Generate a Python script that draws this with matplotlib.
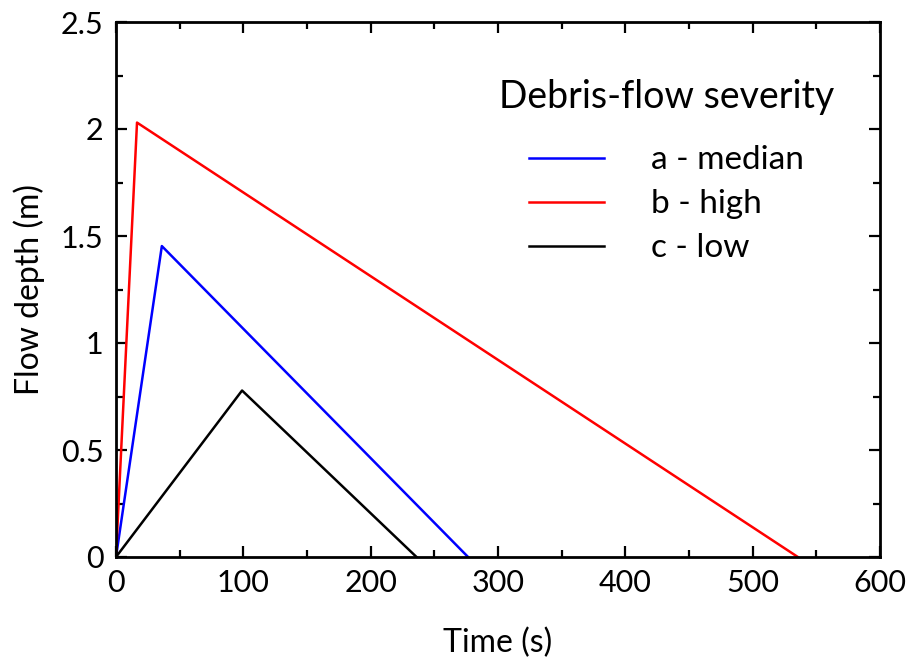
import numpy as np
import matplotlib.pyplot as plt
from matplotlib.ticker import MultipleLocator

plt.rcParams.update({
    "font.family": ["Lato", "DejaVu Sans"],
    "font.size": 22,
})

# ── Data (hydrograph vertices) ───────────────────────────────────
t_median = [0, 36, 276.5]
d_median = [0, 1.453, 0]
t_high = [0, 16.5, 535.5]
d_high = [0, 2.03, 0]
t_low = [0, 99, 236]
d_low = [0, 0.778, 0]

fig = plt.figure(figsize=(9.08, 6.66), dpi=100)
ax = fig.add_axes([116 / 908, 1 - 557 / 666, 764 / 908, 535 / 666])

ax.plot(t_median, d_median, color="#0000ff", lw=1.8, label="a - median")
ax.plot(t_high, d_high, color="#ff0000", lw=1.8, label="b - high")
ax.plot(t_low, d_low, color="black", lw=1.8, label="c - low")

ax.set_xlim(0, 600)
ax.set_ylim(0, 2.5)
ax.xaxis.set_major_locator(MultipleLocator(100))
ax.xaxis.set_minor_locator(MultipleLocator(50))
ax.yaxis.set_major_locator(MultipleLocator(0.5))
ax.yaxis.set_minor_locator(MultipleLocator(0.25))
ax.yaxis.set_major_formatter(plt.FuncFormatter(lambda v, p: f"{v:g}"))
ax.tick_params(which="both", direction="in", top=True, right=True,
               width=1.6, labelsize=22)
ax.tick_params(which="major", length=8, pad=9)
ax.tick_params(which="minor", length=5)
for sp in ax.spines.values():
    sp.set_linewidth(2)

ax.set_xlabel("Time (s)", fontsize=23, labelpad=22)
ax.set_ylabel("Flow depth (m)", fontsize=23, labelpad=11)

leg = ax.legend(title="Debris-flow severity", frameon=False, loc="upper right",
                bbox_to_anchor=(0.979, 0.950), handlelength=2.25,
                handletextpad=1.4, labelspacing=0.42, fontsize=24,
                title_fontsize=27)
leg._legend_box.sep = 22

fig.savefig("out.png", dpi=100)
